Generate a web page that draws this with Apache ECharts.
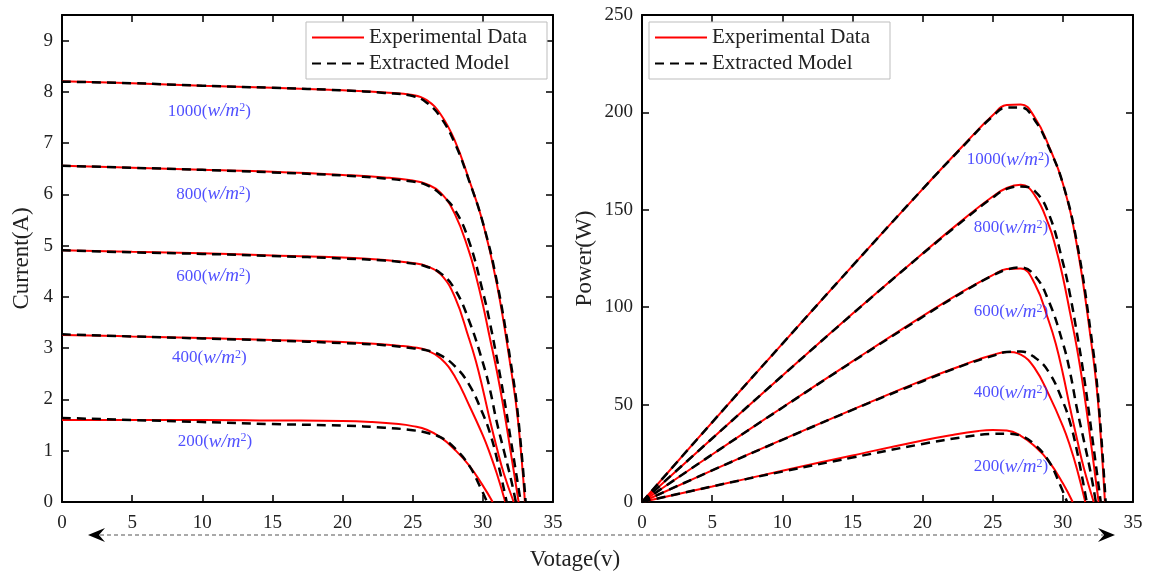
<!DOCTYPE html>
<html><head><meta charset="utf-8">
<script src="https://cdn.jsdelivr.net/npm/echarts@6/dist/echarts.min.js"></script>
<style>html,body{margin:0;padding:0;background:#fff}#c{width:1150px;height:579px}</style>
</head><body><div id="c"></div><script>
// ---- data ----
const irradiance = ['1000', '800', '600', '400', '200'];
const xTicks = [0, 5, 10, 15, 20, 25, 30, 35];

const vE1000 = [0,5,10,15,20,23,25,26,27,28,29,30,31,32,32.5,33.0];
const iE1000 = [8.21,8.17,8.12,8.08,8.03,7.99,7.94,7.84,7.56,7.05,6.3,5.45,4.25,2.6,1.6,0];
const pE1000 = [0,40.9,81.2,121.2,160.6,183.8,198.5,203.8,204.1,197.4,182.7,163.5,131.8,83.2,52.0,0];
const vM1000 = [0,5,10,15,20,23,25,26,27,28,29,30,31,32,32.5,33.05];
const iM1000 = [8.2,8.17,8.12,8.08,8.03,7.98,7.92,7.79,7.5,7.0,6.28,5.45,4.3,2.7,1.7,0];
const pM1000 = [0,40.9,81.2,121.2,160.6,183.5,198.0,202.5,202.5,196.0,182.1,163.5,133.3,86.4,55.3,0];

const vE800 = [0,5,10,15,20,23,25,26,27,28,29,29.5,30,30.5,31,31.5,32,32.55];
const iE800 = [6.56,6.52,6.48,6.44,6.38,6.33,6.27,6.2,6.03,5.62,4.9,4.42,3.85,3.2,2.55,1.8,0.95,0];
const pE800 = [0,32.6,64.8,96.6,127.6,145.6,156.8,161.2,162.8,157.4,142.1,130.4,115.5,97.6,79.1,56.7,30.4,0];
const vM800 = [0,5,10,15,20,23,25,26,27,28,29,30,30.5,31,31.5,32,32.7];
const iM800 = [6.56,6.52,6.48,6.43,6.37,6.31,6.25,6.18,6.0,5.7,5.1,4.1,3.5,2.8,2.05,1.2,0];
const pM800 = [0,32.6,64.8,96.5,127.4,145.1,156.3,160.7,162.0,159.6,147.9,123.0,106.8,86.8,64.6,38.4,0];

const vE600 = [0,5,10,15,20,23,25,26,27,28,29,29.5,30,30.5,31,31.5,32.2];
const iE600 = [4.91,4.88,4.85,4.81,4.77,4.72,4.66,4.6,4.44,4.0,3.2,2.75,2.2,1.6,1.05,0.55,0];
const pE600 = [0,24.4,48.5,72.2,95.4,108.6,116.5,119.6,119.9,112.0,92.8,81.1,66.0,48.8,32.6,17.3,0];
const vM600 = [0,5,10,15,20,23,25,26,27,28,29,30,30.5,31,31.5,32,32.35];
const iM600 = [4.91,4.87,4.84,4.8,4.75,4.71,4.65,4.59,4.46,4.15,3.55,2.72,2.2,1.55,1.0,0.45,0];
const pM600 = [0,24.4,48.4,72.0,95.0,108.3,116.3,119.3,120.4,116.2,103.0,81.6,67.1,48.1,31.5,14.4,0];

const vE400 = [0,5,10,15,20,23,24,25,26,27,28,29,30,30.5,31,31.6];
const iE400 = [3.26,3.23,3.2,3.16,3.12,3.07,3.05,3.02,2.96,2.8,2.45,1.9,1.3,0.95,0.55,0];
const pE400 = [0,16.2,32.0,47.4,62.4,70.6,73.2,75.5,77.0,75.6,68.6,55.1,39.0,29.0,17.1,0];
const vM400 = [0,5,10,15,20,23,25,26,27,28,29,30,30.5,31,31.7];
const iM400 = [3.27,3.23,3.19,3.15,3.1,3.06,3.0,2.96,2.86,2.65,2.3,1.72,1.35,0.85,0];
const pM400 = [0,16.2,31.9,47.3,62.0,70.4,75.0,77.0,77.2,74.2,66.7,51.6,41.2,26.4,0];

const vE200 = [0,5,10,15,20,22,24,25,26,27,28,29,30,30.7];
const iE200 = [1.6,1.6,1.6,1.59,1.58,1.56,1.52,1.48,1.41,1.26,1.02,0.72,0.32,0];
const pE200 = [0,8.0,16.0,23.9,31.6,34.3,36.5,37.0,36.7,34.0,28.6,20.9,9.6,0];
const vM200 = [0,5,10,15,20,23,25,26,27,28,29,29.8,30.3];
const iM200 = [1.64,1.6,1.56,1.52,1.49,1.45,1.4,1.35,1.26,1.05,0.72,0.3,0];
const pM200 = [0,8.0,15.6,22.8,29.8,33.4,35.0,35.1,34.0,29.4,20.9,8.9,0];

// annotation anchor positions (data units)
const ivLabelV = [10.5, 10.8, 10.8, 10.5, 10.9];
const ivLabelI = [7.62, 6.0, 4.4, 2.81, 1.18];
const pvLabelV = [26.1, 26.3, 26.3, 26.3, 26.3];
const pvLabelP = [175.6, 140.7, 97.6, 56.0, 18.0];

// ---- chart ----
const FONT = '"Liberation Serif", "Times New Roman", serif';
const TXT = '#222';
const BLUE = '#2424ff';
const pairs = (v, y) => v.map((x, i) => [x, y[i]]);

const curves = [
  [vE1000, iE1000, pE1000, vM1000, iM1000, pM1000],
  [vE800, iE800, pE800, vM800, iM800, pM800],
  [vE600, iE600, pE600, vM600, iM600, pM600],
  [vE400, iE400, pE400, vM400, iM400, pM400],
  [vE200, iE200, pE200, vM200, iM200, pM200]
];

const redStyle = { color: '#ff0000', width: 2 };
const blackStyle = { color: '#000', width: 2.5, type: [9, 6] };
function line(name, data, ax, style, z) {
  return { type: 'line', name, data, xAxisIndex: ax, yAxisIndex: ax, symbol: 'none',
    smooth: 0.45, lineStyle: style, itemStyle: { color: style.color },
    silent: true, animation: false, z };
}
const series = [];
curves.forEach(c => {
  series.push(line('Experimental Data', pairs(c[0], c[1]), 0, redStyle, 2));
  series.push(line('Experimental Data', pairs(c[0], c[2]), 2, redStyle, 2));
});
curves.forEach(c => {
  series.push(line('Extracted Model', pairs(c[3], c[4]), 0, blackStyle, 3));
  series.push(line('Extracted Model', pairs(c[3], c[5]), 2, blackStyle, 3));
});

const rich = {
  a: { fontFamily: FONT, fontSize: 17, color: BLUE, lineHeight: 19 },
  b: { fontFamily: FONT, fontSize: 19, fontStyle: 'italic', color: BLUE, lineHeight: 19 },
  c: { fontFamily: FONT, fontSize: 12, color: BLUE, verticalAlign: 'top', lineHeight: 19 }
};
function labelSeries(ax, xs, ys) {
  return { type: 'scatter', name: 'lab' + ax, xAxisIndex: ax, yAxisIndex: ax, symbolSize: 1,
    itemStyle: { color: 'rgba(0,0,0,0)' }, silent: true, animation: false, z: 5,
    data: irradiance.map((t, i) => [xs[i], ys[i], t]),
    label: { show: true, position: 'inside', formatter: p => `{a|${p.data[2]}(}{b|w/m}{c|2}{a|)}`, rich } };
}
series.push(labelSeries(0, ivLabelV, ivLabelI));
series.push(labelSeries(2, pvLabelV, pvLabelP));

const axLine = { show: true, onZero: false, lineStyle: { color: '#000', width: 2 } };
const axTick = { show: true, inside: true, length: 7, lineStyle: { color: '#000', width: 1.5 } };
const lab = { fontFamily: FONT, fontSize: 19, color: TXT };
function xAx(grid, pos, showLab) {
  return { type: 'value', gridIndex: grid, position: pos, min: 0, max: 35, interval: 5,
    axisLine: axLine, axisTick: axTick, splitLine: { show: false },
    axisLabel: Object.assign({ show: showLab, margin: 12, formatter: v => xTicks.includes(v) ? String(v) : '' }, lab) };
}
function yAx(grid, pos, max, interval, showLab, name, gap) {
  return { type: 'value', gridIndex: grid, position: pos, min: 0, max, interval,
    axisLine: axLine, axisTick: axTick, splitLine: { show: false },
    name: name || '', nameLocation: 'middle', nameGap: gap || 0,
    nameTextStyle: { fontFamily: FONT, fontSize: 23, color: TXT },
    axisLabel: Object.assign({ show: showLab, margin: 9, showMaxLabel: max === 250 }, lab) };
}

const legendBase = {
  orient: 'vertical', top: 22, itemWidth: 52, itemHeight: 14, itemGap: 5,
  padding: [5, 20, 5, 5], borderColor: '#bdbdbd', borderWidth: 1, backgroundColor: '#fff',
  selectedMode: false, data: ['Experimental Data', 'Extracted Model'],
  itemStyle: { opacity: 0 },
  textStyle: { fontFamily: FONT, fontSize: 21, color: TXT, lineHeight: 21 }
};

const chart = echarts.init(document.getElementById('c'), null, { renderer: 'canvas' });
chart.setOption({
  backgroundColor: '#fff',
  animation: false,
  grid: [
    { left: 62, top: 15, width: 491, height: 487 },
    { left: 642, top: 15, width: 491, height: 487 }
  ],
  xAxis: [xAx(0, 'bottom', true), xAx(0, 'top', false), xAx(1, 'bottom', true), xAx(1, 'top', false)],
  yAxis: [
    yAx(0, 'left', 9.5, 1, true, 'Current(A)', 29),
    yAx(0, 'right', 9.5, 1, false),
    yAx(1, 'left', 250, 50, true, 'Power(W)', 46),
    yAx(1, 'right', 250, 50, false)
  ],
  legend: [Object.assign({ left: 306 }, legendBase), Object.assign({ left: 649 }, legendBase)],
  graphic: [
    { type: 'line', shape: { x1: 100, y1: 535, x2: 1103, y2: 535 },
      style: { stroke: '#555', lineWidth: 1.2, lineDash: [4, 3] }, silent: true },
    { type: 'polygon', shape: { points: [[88, 535], [105, 528], [99, 535], [105, 542]] },
      style: { fill: '#000' }, silent: true },
    { type: 'polygon', shape: { points: [[1115, 535], [1098, 528], [1104, 535], [1098, 542]] },
      style: { fill: '#000' }, silent: true },
    { type: 'text', left: 'center', top: 548,
      style: { text: 'Votage(v)', fontFamily: FONT, fontSize: 23, fill: TXT }, silent: true }
  ],
  series
});
</script></body></html>
